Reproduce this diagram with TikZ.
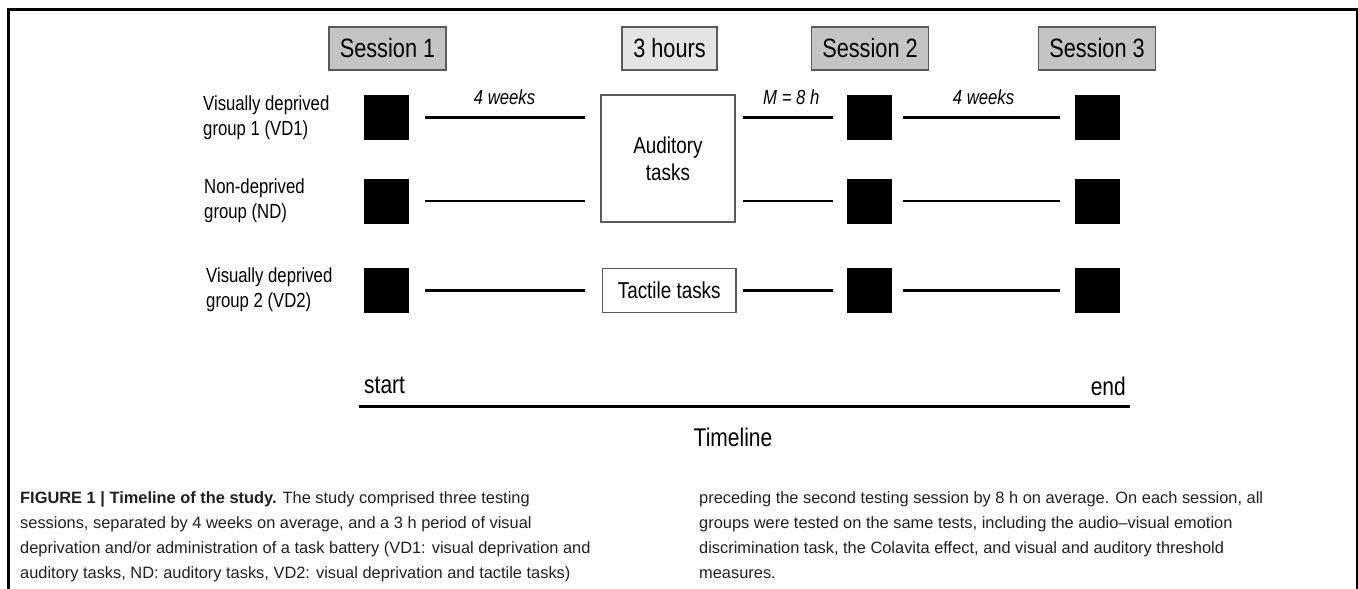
\documentclass[tikz,border=0pt]{standalone}
\usepackage{fontspec}
\setmainfont{Liberation Sans}
\newfontfamily\condsf{Liberation Sans}[FakeStretch=0.82]
\usepackage{tikz}
\pgfdeclarelayer{bg}
\pgfsetlayers{bg,main}
\definecolor{sessgray}{HTML}{C4C4C4}
\definecolor{hrsgray}{HTML}{E4E4E4}
\definecolor{rimgray}{HTML}{5A5A5A}
\definecolor{captext}{HTML}{231F20}
\tikzset{
  session/.style={draw=rimgray, line width=1.6pt, fill=sessgray, minimum width=117pt,
    minimum height=43pt, inner sep=0pt, font=\condsf\fontsize{26.5}{30}\selectfont},
  blk/.style={fill=black, minimum width=44.5pt, minimum height=45pt, inner sep=0pt},
  task/.style={draw=rimgray, line width=1.3pt, fill=white, inner sep=0pt, align=center,
    font=\condsf\fontsize{23}{27}\selectfont},
  group/.style={anchor=west, align=left, inner sep=0pt, font=\condsf\fontsize{20.4}{25}\selectfont},
  link/.style={line width=2.7pt},
  lbl/.style={inner sep=0pt, font=\condsf\itshape\fontsize{20.4}{24}\selectfont},
  axtext/.style={inner sep=0pt, font=\condsf\fontsize{25.6}{30}\selectfont},
  caption/.style={align=left, inner sep=0pt, text=captext, font=\fontsize{16.4}{25}\selectfont}
}
\begin{document}
\begin{tikzpicture}[x=1pt, y=-1pt]
        \useasboundingbox (0,0) rectangle (1358,589);
        % frame
        \draw [line width=2.7pt] (8.7,589) -- (8.7,9.2) -- (1357,9.2) -- (1357,589);
        % session headers
        \node (s1) [session] at (387.5,48.5) {Session 1};
        \node (hrs) [session, fill=hrsgray, minimum width=95pt] at (669.5,48.5) {3 hours};
        \node (s2) [session] at (870,48.5) {Session 2};
        \node (s3) [session] at (1097,48.5) {Session 3};
        % groups
        \node (g1) [group] at (203,117.5) {Visually deprived\\group 1 (VD1)};
        \node (g2) [group] at (204,200.5) {Non-deprived\\group (ND)};
        \node (g3) [group] at (206,289.5) {Visually deprived\\group 2 (VD2)};
        % testing squares
        \node (q11) [blk] at (386.3,117.5) {};
        \node (q21) [blk] at (386.3,201) {};
        \node (q31) [blk] at (386.3,290.5) {};
        \node (q12) [blk] at (869.5,117.5) {};
        \node (q22) [blk] at (869.5,201) {};
        \node (q32) [blk] at (869.5,290.5) {};
        \node (q13) [blk] at (1097.5,117.5) {};
        \node (q23) [blk] at (1097.5,201) {};
        \node (q33) [blk] at (1097.5,290.5) {};
        % task boxes
        \node (aud) [task, minimum width=134pt, minimum height=127pt] at (668,158.5) {Auditory\\tasks};
        \node (tac) [task, minimum width=133.5pt, minimum height=44.5pt] at (669.2,290.5) {Tactile tasks};
        % intervals
        \draw (q11) edge [link, shorten <=16.5pt, shorten >=15pt] node [lbl, midway, above=11pt] {4 weeks} (q11 -| aud.west);
        \draw (q21) edge [link, shorten <=16.5pt, shorten >=15pt] (q21 -| aud.west);
        \draw (q31) edge [link, shorten <=16.5pt, shorten >=16.5pt] (tac);
        \draw (aud.east |- q12) edge [link, shorten <=7.7pt, shorten >=14.4pt] node [lbl, midway, above=11pt] {M = 8 h} (q12);
        \draw (aud.east |- q22) edge [link, shorten <=7.7pt, shorten >=14.4pt] (q22);
        \draw (tac) edge [link, shorten <=6.7pt, shorten >=14.4pt] (q32);
        \draw (q12) edge [link, shorten <=10.7pt, shorten >=15pt] node [lbl, midway, above=11pt] {4 weeks} (q13);
        \draw (q22) edge [link, shorten <=10.7pt, shorten >=15pt] (q23);
        \draw (q32) edge [link, shorten <=10.7pt, shorten >=15pt] (q33);
        % timeline
        \coordinate (t0) at (359,406.7);
        \coordinate (t1) at (1130,406.7);
        \draw [line width=3pt] (t0) -- (t1);
        \node (st) [axtext, anchor=west] at (364,385) {start};
        \node (en) [axtext, anchor=east] at (1126,386) {end};
        \node (tl) [axtext] at (733,437) {Timeline};
        % caption
        \node (capl) [caption, anchor=base west] at (20,578) {\textbf{FIGURE 1 | Timeline of the study.} The study comprised three testing\\
sessions, separated by 4 weeks on average, and a 3 h period of visual\\
deprivation and/or administration of a task battery (VD1: visual deprivation and\\
auditory tasks, ND: auditory tasks, VD2: visual deprivation and tactile tasks)};
        \node (capr) [caption, anchor=base west] at (699,578) {preceding the second testing session by 8 h on average. On each session, all\\
groups were tested on the same tests, including the audio--visual emotion\\
discrimination task, the Colavita effect, and visual and auditory threshold\\
measures.};
\end{tikzpicture}
\end{document}
